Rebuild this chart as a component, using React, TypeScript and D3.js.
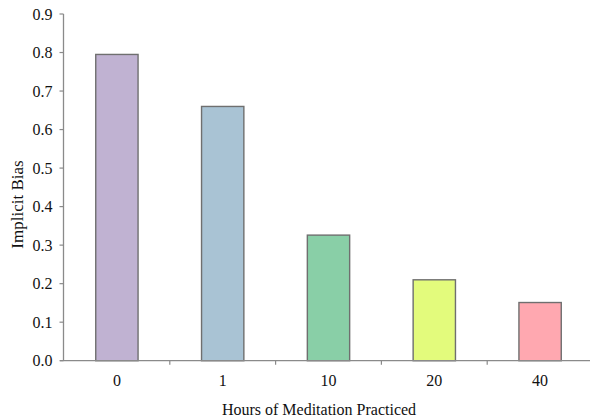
import { useEffect, useRef } from 'react'
import * as d3 from 'd3'

const HOURS = ['0', '1', '10', '20', '40']
const BIAS = [0.795, 0.66, 0.326, 0.21, 0.151]
const COLORS = ['#C0B2D2', '#A9C3D4', '#89CFA7', '#E3FB7C', '#FFA8B0']
const Y_TICKS = [0, 0.1, 0.2, 0.3, 0.4, 0.5, 0.6, 0.7, 0.8, 0.9]

const W = 590
const H = 419
const FONT = '"Liberation Serif", "Times New Roman", serif'

export default function App() {
  const ref = useRef<SVGSVGElement>(null)

  useEffect(() => {
    if (!ref.current) return
    const m = { left: 64, right: -3, top: 14, bottom: 58 }
    const svg = d3.select(ref.current)
    svg.selectAll('*').remove()

    const x = d3.scaleBand<string>().domain(HOURS).range([m.left, W - m.right]).paddingInner(0.6).paddingOuter(0.3)
    const xb = d3.scaleBand<string>().domain(HOURS).range([m.left, W - m.right])
    const y = d3.scaleLinear().domain([0, 0.9]).range([H - m.bottom - 0.3, m.top])

    const g = svg.append('g')

    // bars
    g.selectAll('rect.bar').data(BIAS).join('rect').attr('class', 'bar')
      .attr('x', (_d, i) => x(HOURS[i])!)
      .attr('width', x.bandwidth())
      .attr('y', (d) => y(d))
      .attr('height', (d) => y(0) - y(d))
      .attr('fill', (_d, i) => COLORS[i])
      .attr('stroke', '#6f6f6f').attr('stroke-width', 1.4)

    // y axis
    const yAxis = g.append('g').attr('transform', `translate(${m.left - 0.5},0)`)
    yAxis.append('line').attr('y1', y(0.9)).attr('y2', y(0)).attr('stroke', '#8a8a8a').attr('stroke-width', 1.3)
    yAxis.selectAll('line.tk').data(Y_TICKS).join('line').attr('class', 'tk')
      .attr('x1', -4).attr('x2', 0).attr('y1', (d) => y(d)).attr('y2', (d) => y(d))
      .attr('stroke', '#8a8a8a').attr('stroke-width', 1.2)
    yAxis.selectAll('text').data(Y_TICKS).join('text')
      .attr('x', -11).attr('y', (d) => y(d)).attr('dy', '0.35em')
      .attr('text-anchor', 'end').attr('font-family', FONT).attr('font-size', 16).attr('fill', '#111')
      .text((d) => d.toFixed(1))

    // x axis
    const xAxis = g.append('g').attr('transform', `translate(0,${y(0)})`)
    xAxis.append('line').attr('x1', m.left - 4).attr('x2', W).attr('stroke', '#8a8a8a').attr('stroke-width', 1.3)
    xAxis.selectAll('line.tk').data(HOURS.slice(1)).join('line').attr('class', 'tk')
      .attr('x1', (d) => xb(d)!).attr('x2', (d) => xb(d)!).attr('y1', 0).attr('y2', 4)
      .attr('stroke', '#8a8a8a').attr('stroke-width', 1.2)
    xAxis.selectAll('text').data(HOURS).join('text')
      .attr('x', (d) => x(d)! + x.bandwidth() / 2).attr('y', 25)
      .attr('text-anchor', 'middle').attr('font-family', FONT).attr('font-size', 16).attr('fill', '#111')
      .text((d) => d)

    // titles
    svg.append('text').attr('x', 319).attr('y', 415).attr('text-anchor', 'middle')
      .attr('font-family', FONT).attr('font-size', 16).attr('fill', '#111')
      .text('Hours of Meditation Practiced')
    svg.append('text').attr('transform', `translate(23,204.5) rotate(-90)`)
      .attr('text-anchor', 'middle').attr('font-family', FONT).attr('font-size', 17).attr('fill', '#111')
      .text('Implicit Bias')
  }, [])

  return (
    <svg ref={ref} width={W} height={H}
      style={{ position: 'absolute', left: 0, top: 0, display: 'block', background: '#fff' }} />
  )
}
